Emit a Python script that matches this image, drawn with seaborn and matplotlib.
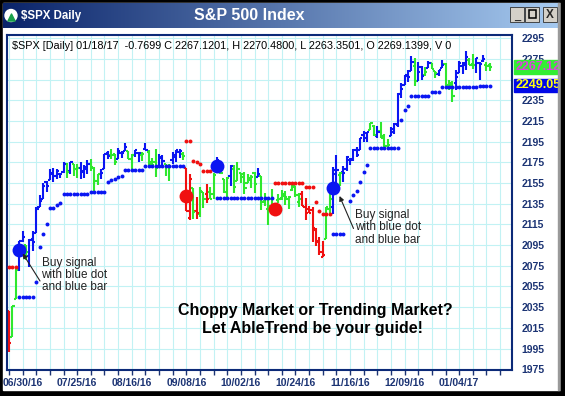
import numpy as np
import matplotlib
matplotlib.use("Agg")
import matplotlib.pyplot as plt
from matplotlib.patches import Rectangle, Circle
from matplotlib.colors import LinearSegmentedColormap
import seaborn as sns

# ---- values ----
tick_labels = ["06/30/16", "07/25/16", "08/16/16", "09/08/16", "10/02/16",
               "10/24/16", "11/16/16", "12/09/16", "01/04/17"]
label_bars = [4, 20, 36, 52, 68, 84, 100, 116, 132]
price_ticks = list(range(1975, 2296, 20))
hidden_price_ticks = [2255]  # sits fully behind the stop box

opens = [2031.45, 2006.67, 2042.69, 2073.17, 2099.34, 2095.05, 2084.43, 2100.42, 2106.97, 2131.72,
         2139.50, 2155.81, 2157.88, 2165.13, 2162.04, 2163.79, 2166.10, 2172.91, 2166.47, 2173.71,
         2168.97, 2169.81, 2166.05, 2168.83, 2173.15, 2169.94, 2156.81, 2163.51, 2168.79, 2183.76,
         2182.24, 2182.81, 2177.97, 2183.74, 2186.08, 2186.24, 2177.84, 2181.90, 2184.24, 2181.58,
         2187.81, 2185.09, 2173.29, 2175.10, 2170.19, 2179.45, 2173.56, 2171.33, 2177.49, 2181.61,
         2185.17, 2182.76, 2169.08, 2120.86, 2150.47, 2127.86, 2125.36, 2146.48, 2143.99, 2145.94,
         2144.58, 2170.94, 2173.29, 2158.54, 2146.04, 2161.85, 2168.90, 2156.51, 2164.33, 2163.37,
         2155.15, 2158.22, 2164.19, 2160.39, 2161.35, 2137.67, 2130.26, 2139.68, 2132.95, 2138.31,
         2140.81, 2142.51, 2139.43, 2148.50, 2151.66, 2136.97, 2144.06, 2132.23, 2129.78, 2128.68,
         2109.43, 2098.80, 2083.79, 2100.59, 2129.92, 2131.56, 2167.49, 2162.71, 2165.64, 2168.29,
         2177.53, 2178.61, 2186.85, 2186.43, 2201.56, 2198.55, 2206.27, 2210.21, 2200.76, 2204.97,
         2200.17, 2191.12, 2200.65, 2207.26, 2210.72, 2241.13, 2249.73, 2258.83, 2263.32, 2268.35,
         2253.77, 2266.81, 2259.24, 2266.50, 2270.54, 2262.93, 2260.25, 2266.23, 2270.23, 2249.50,
         2251.61, 2251.57, 2261.60, 2268.18, 2271.14, 2273.59, 2269.72, 2268.60, 2271.14, 2272.74,
         2269.14, 2269.14]
highs = [2031.45, 2036.09, 2073.13, 2098.94, 2108.71, 2095.05, 2100.72, 2109.08, 2131.71, 2143.16,
         2155.40, 2156.45, 2168.99, 2169.05, 2168.35, 2164.63, 2175.63, 2174.56, 2175.11, 2173.71,
         2173.54, 2174.98, 2172.85, 2177.09, 2178.29, 2170.20, 2163.79, 2168.19, 2182.87, 2185.44,
         2187.66, 2183.41, 2188.45, 2186.28, 2193.81, 2186.24, 2183.08, 2187.03, 2185.00, 2185.15,
         2193.42, 2186.66, 2179.00, 2187.94, 2183.48, 2182.27, 2173.79, 2173.56, 2184.87, 2186.57,
         2187.87, 2184.94, 2169.08, 2163.30, 2150.47, 2141.33, 2151.31, 2146.48, 2153.61, 2150.80,
         2165.11, 2179.99, 2173.75, 2158.54, 2161.13, 2172.40, 2172.67, 2175.30, 2164.41, 2165.46,
         2163.95, 2162.93, 2165.86, 2169.60, 2161.56, 2145.36, 2138.19, 2149.19, 2135.61, 2144.38,
         2148.44, 2147.18, 2142.63, 2154.79, 2151.66, 2145.73, 2147.13, 2140.72, 2133.25, 2131.45,
         2111.76, 2102.56, 2099.07, 2132.00, 2146.87, 2170.10, 2182.30, 2165.92, 2171.36, 2180.84,
         2179.22, 2188.06, 2189.89, 2198.70, 2204.80, 2204.72, 2213.35, 2211.14, 2210.46, 2214.10,
         2202.60, 2197.95, 2209.42, 2212.78, 2241.63, 2251.69, 2259.80, 2264.03, 2277.53, 2276.20,
         2272.12, 2268.05, 2267.47, 2272.56, 2271.23, 2263.18, 2263.79, 2273.82, 2271.31, 2254.51,
         2253.58, 2263.88, 2272.82, 2271.50, 2282.10, 2275.49, 2279.27, 2275.32, 2271.78, 2278.68,
         2272.08, 2270.48]
lows = [1991.68, 2006.67, 2042.69, 2070.00, 2097.90, 2080.86, 2074.02, 2089.39, 2106.97, 2131.72,
        2139.50, 2146.21, 2157.88, 2155.79, 2159.07, 2159.40, 2164.89, 2159.75, 2163.24, 2161.95,
        2160.18, 2159.07, 2159.74, 2163.49, 2166.21, 2147.58, 2152.95, 2159.07, 2168.79, 2177.85,
        2178.61, 2172.00, 2177.97, 2179.42, 2186.08, 2178.14, 2168.50, 2180.46, 2175.13, 2175.96,
        2186.80, 2171.25, 2169.74, 2160.39, 2170.19, 2170.41, 2161.35, 2157.09, 2173.59, 2175.10,
        2179.07, 2177.49, 2127.81, 2119.12, 2120.27, 2119.90, 2122.36, 2131.20, 2135.91, 2139.17,
        2139.57, 2170.94, 2163.97, 2145.04, 2141.55, 2151.79, 2145.20, 2156.51, 2154.77, 2144.01,
        2155.15, 2150.28, 2144.85, 2160.39, 2128.84, 2132.77, 2114.72, 2132.98, 2124.43, 2135.49,
        2138.15, 2133.44, 2130.09, 2146.91, 2141.23, 2131.59, 2132.52, 2119.36, 2125.53, 2097.85,
        2094.00, 2085.23, 2083.79, 2100.59, 2123.56, 2125.35, 2151.17, 2152.49, 2156.08, 2166.38,
        2172.20, 2176.65, 2180.38, 2186.43, 2194.51, 2194.51, 2206.27, 2200.36, 2198.15, 2198.81,
        2187.44, 2188.37, 2199.97, 2202.21, 2208.93, 2237.57, 2249.23, 2252.37, 2263.32, 2248.44,
        2253.77, 2254.24, 2258.21, 2266.14, 2265.15, 2256.08, 2258.84, 2266.15, 2249.11, 2244.56,
        2233.62, 2245.13, 2261.60, 2260.45, 2264.06, 2268.90, 2265.27, 2260.83, 2254.25, 2271.51,
        2262.81, 2263.35]
closes = [2000.54, 2036.09, 2070.77, 2098.86, 2102.95, 2088.55, 2099.73, 2097.90, 2129.90, 2137.16,
          2152.14, 2152.43, 2163.75, 2161.74, 2166.89, 2163.78, 2173.02, 2165.17, 2175.03, 2168.48,
          2169.18, 2166.58, 2170.06, 2173.60, 2170.84, 2157.03, 2163.79, 2164.25, 2182.87, 2180.89,
          2181.74, 2175.49, 2185.79, 2184.05, 2190.15, 2178.15, 2182.22, 2187.02, 2183.87, 2182.64,
          2186.90, 2175.44, 2172.47, 2169.04, 2180.38, 2176.12, 2170.95, 2170.86, 2179.98, 2186.48,
          2186.16, 2181.30, 2127.81, 2159.04, 2127.02, 2125.77, 2147.26, 2139.16, 2139.12, 2139.76,
          2163.12, 2177.18, 2164.69, 2146.10, 2159.93, 2171.37, 2151.13, 2168.27, 2161.20, 2150.49,
          2159.73, 2160.77, 2153.74, 2163.66, 2136.73, 2139.18, 2132.55, 2132.98, 2126.50, 2139.60,
          2144.29, 2141.34, 2141.16, 2151.33, 2143.16, 2139.43, 2133.04, 2126.41, 2126.15, 2111.72,
          2097.94, 2088.66, 2085.18, 2131.52, 2139.56, 2163.26, 2167.48, 2164.45, 2164.20, 2180.39,
          2176.94, 2187.12, 2181.90, 2198.18, 2202.94, 2204.72, 2213.35, 2201.72, 2204.66, 2198.81,
          2191.08, 2191.95, 2204.71, 2212.23, 2241.35, 2246.19, 2259.53, 2256.96, 2271.72, 2253.28,
          2262.03, 2258.07, 2262.53, 2270.76, 2265.18, 2260.96, 2263.79, 2268.88, 2249.92, 2249.26,
          2238.83, 2257.83, 2270.75, 2269.00, 2276.98, 2268.90, 2268.90, 2275.32, 2270.44, 2274.64,
          2267.89, 2267.12]
# trend colour of every bar: B = up (blue), G = neutral (green), R = down (red)
bar_trend = ("RGGBBGBBBB" "BBBBBBBGBG" "GBBBGGGBBB" "GGBBBGGBBG" "BGGGBBGGBB"
             "BGRRGRGGRG" "GBGGGBGGGG" "GGGBGGGGRG" "GGGGGGRRRR" "RRRGGBBGBB"
             "BBBBBBGGBG" "GGBBBBBBBG" "BBGBGGBBGG" "GBBBBGGBBB" "GG")

blue_stop_bars = (list(range(3, 8)) + [8, 9, 10, 11, 12, 13, 14, 15] + list(range(16, 24))
                  + list(range(24, 29)) + [29, 30, 31, 32, 33] + list(range(34, 40))
                  + list(range(40, 52)) + list(range(61, 78)) + list(range(95, 99))
                  + [100, 101, 102, 103, 104, 105] + list(range(106, 115)) + [115, 116, 117]
                  + list(range(118, 124)) + list(range(124, 127)) + list(range(127, 138))
                  + list(range(138, 142)))
blue_stop_vals = ([2044.6] * 5 + [2059, 2093.5, 2105.7, 2115, 2130.5, 2130.5, 2134, 2135.5]
                  + [2144] * 8 + [2146.6] * 5 + [2156, 2157.5, 2159, 2160.5, 2162] + [2167.6] * 6
                  + [2171.4] * 12 + [2140.8] * 17 + [2105.7] * 4
                  + [2138, 2143, 2147, 2156, 2165.5, 2172.5] + [2188.5] * 9 + [2216, 2226, 2229]
                  + [2239.4] * 6 + [2243.2] * 3 + [2247.3] * 11 + [2249.05] * 4)
red_stop_bars = ([0, 1, 2, 52, 53, 54, 55, 56, 57, 58, 59] + list(range(78, 87))
                 + [87, 88, 89, 90, 91, 92, 93, 94])
red_stop_vals = ([2074] * 3 + [2196, 2196, 2176, 2175, 2173.5, 2166.6, 2166.6, 2166.6]
                 + [2154.7] * 9 + [2151, 2151, 2151, 2137, 2128, 2125, 2125, 2125])

buy_bars = [3, 61, 95]
buy_vals = [2090, 2171.7, 2150.5]
sell_bars = [52, 78]
sell_vals = [2142.5, 2130]

last_close = 2267.12
last_stop = 2249.05
header = ("$SPX [Daily] 01/18/17  -0.7699 C 2267.1201, H 2270.4800, "
          "L 2263.3501, O 2269.1399, V 0")

# ---- style ----
sns.set_style("white")
plt.rcParams["font.family"] = ["Liberation Sans", "DejaVu Sans"]

W, H = 565, 396
BLUE, GREEN, RED = "#0a16f2", "#2ee82e", "#f01010"
NAVY = "#1c3474"
trend_colors = {"B": BLUE, "G": GREEN, "R": RED}


def fx(px):
    return px / W


def fy(py):
    return 1 - py / H


def pixel_axes(z):
    a = fig.add_axes([0, 0, 1, 1], zorder=z)
    a.set_xlim(0, W)
    a.set_ylim(H, 0)
    a.axis("off")
    a.patch.set_alpha(0)
    return a


fig = plt.figure(figsize=(W / 100, H / 100), dpi=100)

# window chrome, drawn in pixel coordinates
bg = pixel_axes(0)
bg.add_patch(Rectangle((0, 0), W, H, color="black"))
bg.add_patch(Rectangle((3, 3), 556, 387, color="white"))
tb_cmap = LinearSegmentedColormap.from_list("tb", ["#0a246a", "#a6caf0"])
bg.imshow(np.linspace(0, 1, 256)[None, :], extent=(3, 560, 28, 3), cmap=tb_cmap,
          aspect="auto", zorder=2)
bg.add_patch(Circle((11, 15.5), 6, color="white", zorder=3))
bg.scatter([11], [16.5], marker="^", s=26, color="#1aa04a", zorder=4)
for bx in [510, 525]:
    bg.add_patch(Rectangle((bx, 7), 14, 15, facecolor="#d4d0c8", edgecolor="#303030", lw=0.6, zorder=3))
bg.add_patch(Rectangle((543, 7), 14, 15, facecolor="#d4d0c8", edgecolor="#303030", lw=0.6, zorder=3))
bg.text(517, 17, "_", ha="center", va="center", fontsize=8, fontweight="bold", zorder=5)
bg.add_patch(Rectangle((528.5, 10), 7, 8, fill=False, edgecolor="black", lw=1.1, zorder=5))
bg.text(550, 15, "X", ha="center", va="center", fontsize=8.5, fontweight="bold", zorder=5)

bg.text(21, 15.5, "$SPX Daily", color="white", fontsize=8.3, fontweight="bold", va="center", zorder=5)
bg.text(249, 15.5, "S&P 500 Index", color="white", fontsize=11.5,
        fontweight="bold", ha="center", va="center", zorder=5)

# main chart
ax = fig.add_axes([fx(7.2), fy(370), fx(512) - fx(7.2), fy(35) - fy(370)], zorder=1)
ax.set_xlim(-0.53, 147.5)
ax.set_ylim(1974.3, 2298.0)

idx = np.arange(len(closes))
cols = [trend_colors[t] for t in bar_trend]
ax.vlines(idx, lows, highs, colors=cols, lw=1.5, zorder=2)
ax.hlines(opens, idx - 0.65, idx, colors=cols, lw=1.5, zorder=2)
ax.hlines(closes, idx, idx + 0.65, colors=cols, lw=1.5, zorder=2)

sns.scatterplot(x=blue_stop_bars, y=blue_stop_vals, color=BLUE, s=8, linewidth=0, ax=ax, zorder=3)
sns.scatterplot(x=red_stop_bars, y=red_stop_vals, color=RED, s=8, linewidth=0, ax=ax, zorder=3)
sns.scatterplot(x=buy_bars, y=buy_vals, color=BLUE, s=100, linewidth=0, ax=ax, zorder=4)
sns.scatterplot(x=sell_bars, y=sell_vals, color=RED, s=100, linewidth=0, ax=ax, zorder=4)

ax.set_xticks(np.arange(0, 145, 4))
ax.set_xticklabels([tick_labels[label_bars.index(t)] if t in label_bars else ""
                    for t in range(0, 145, 4)])
ax.set_yticks(price_ticks)
ax.set_yticklabels(["" if p in hidden_price_ticks else str(p) for p in price_ticks])
ax.yaxis.tick_right()
ax.grid(True, color="#c2f2f4", lw=0.8)
ax.set_axisbelow(True)
ax.tick_params(axis="x", length=3.5, width=1, color=NAVY, pad=2.5, labelsize=7.5,
               labelcolor=NAVY, bottom=True)
ax.tick_params(axis="y", length=0, pad=7, labelsize=7.5, labelcolor=NAVY, right=True)
for lbl in ax.get_xticklabels() + ax.get_yticklabels():
    lbl.set_fontweight("bold")
for sp in ax.spines.values():
    sp.set_color("#0c2a78")
    sp.set_linewidth(1.5)
ax.set_xlabel("")
ax.set_ylabel("")


def px2data(px, py):
    return (px - 9.0) / 3.41, 1975 + (369.3 - py) / 1.035


arrow_kw = dict(arrowstyle="-|>", color="#222222", lw=0.8, mutation_scale=7, shrinkA=0, shrinkB=0)
ax.annotate("", xy=px2data(22.7, 253.5), xytext=px2data(40, 281), arrowprops=arrow_kw, zorder=5)
ax.annotate("", xy=px2data(339.5, 196), xytext=px2data(353.5, 228.5), arrowprops=arrow_kw, zorder=5)

# current close and stop boxes sit on top of the price scale
top = pixel_axes(2)
top.add_patch(Rectangle((514, 59.5), 46, 14, color="#33ee33", zorder=3))
top.text(516, 67, f"{last_close:.2f}", color="#e040e0", fontsize=9, fontweight="bold",
         va="center", zorder=4)
top.add_patch(Rectangle((514, 78.5), 46, 13.5, color="#0008e8", zorder=3))
top.text(516, 85.5, f"{last_stop:.2f}", color="#ffff10", fontsize=9, fontweight="bold",
         va="center", zorder=4)
top.add_patch(Rectangle((558, 3), 3, 387, color="#9a9a9a", zorder=8))
top.add_patch(Rectangle((561, 0), 4, H, color="black", zorder=8))

note = "Buy signal\nwith blue dot\nand blue bar"
top.text(41.5, 275, note, fontsize=8.5, color="#222222", va="center", linespacing=1.05)
top.text(355, 227.5, note, fontsize=8.5, color="#222222", va="center", linespacing=1.05)
top.text(315, 311, "Choppy Market or Trending Market?", fontsize=11.5,
         fontweight="bold", ha="center", va="center", color="black")
top.text(313, 328, "Let AbleTrend be your guide!", fontsize=11.5,
         fontweight="bold", ha="center", va="center", color="black")
top.text(12.5, 46, header, fontsize=7.8, va="center", color="black")

fig.savefig("out.png", dpi=100)
